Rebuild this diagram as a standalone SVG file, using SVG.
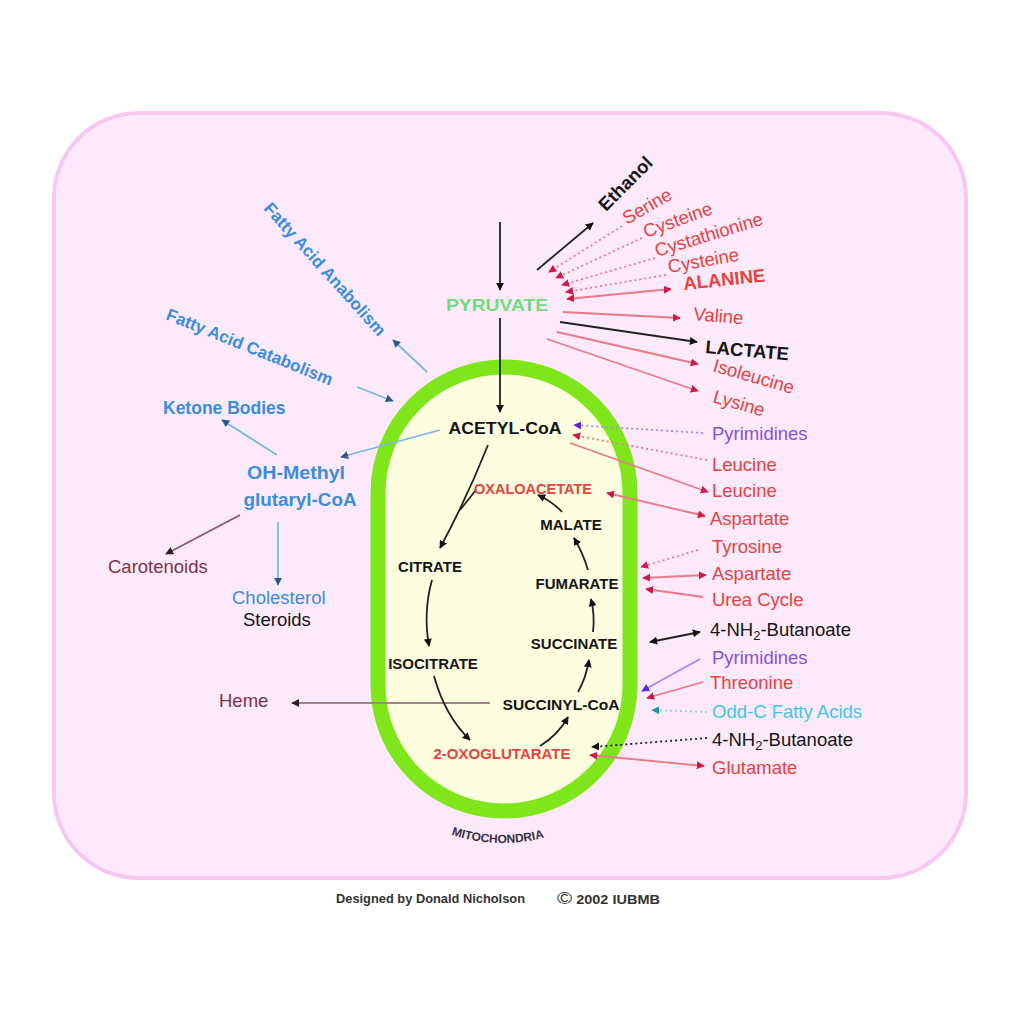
<svg xmlns="http://www.w3.org/2000/svg" width="1024" height="1024" viewBox="0 0 1024 1024">
<defs>
<style>
text{font-family:"Liberation Sans",Arial,sans-serif}
.lab{font-size:18.5px}
.red{fill:#e5433f}
.blk{fill:#151515}
.pur{fill:#8650e0}
.cyn{fill:#3ec6ec}
.blu{fill:#3a8ddc}
.brn{fill:#7e3444}
.grn{fill:#6edc7c}
.tca{font-size:15px;font-weight:bold;text-anchor:middle}
.b{font-weight:bold}
.c{stroke-width:1.8;fill:none}
.lr{stroke:#ec7a86}
.lk{stroke:#222}
.lp{stroke:#a988ec}
.lc{stroke:#8ad8f0}
.lb{stroke:#7ab6e6}
.ln{stroke:#8a5a62}
.dot{stroke-dasharray:2 3}
.ek{marker-end:url(#mk)}
.er{marker-end:url(#mr)}
.ep{marker-end:url(#mp)}
.ec{marker-end:url(#mc)}
.eb{marker-end:url(#mb)}
.en{marker-end:url(#mn)}
.sk{marker-start:url(#mk)}
.sr{marker-start:url(#mr)}
</style>
<marker id="mk" viewBox="0 0 10 10" refX="9" refY="5" markerWidth="8" markerHeight="8" markerUnits="userSpaceOnUse" orient="auto-start-reverse"><path d="M0,0L10,5L0,10z" fill="#111"/></marker>
<marker id="mr" viewBox="0 0 10 10" refX="9" refY="5" markerWidth="8" markerHeight="8" markerUnits="userSpaceOnUse" orient="auto-start-reverse"><path d="M0,0L10,5L0,10z" fill="#d01848"/></marker>
<marker id="mp" viewBox="0 0 10 10" refX="9" refY="5" markerWidth="8" markerHeight="8" markerUnits="userSpaceOnUse" orient="auto-start-reverse"><path d="M0,0L10,5L0,10z" fill="#5a2ad0"/></marker>
<marker id="mc" viewBox="0 0 10 10" refX="9" refY="5" markerWidth="8" markerHeight="8" markerUnits="userSpaceOnUse" orient="auto-start-reverse"><path d="M0,0L10,5L0,10z" fill="#1a98b8"/></marker>
<marker id="mb" viewBox="0 0 10 10" refX="9" refY="5" markerWidth="8" markerHeight="8" markerUnits="userSpaceOnUse" orient="auto-start-reverse"><path d="M0,0L10,5L0,10z" fill="#2a5a8a"/></marker>
<marker id="mn" viewBox="0 0 10 10" refX="9" refY="5" markerWidth="8" markerHeight="8" markerUnits="userSpaceOnUse" orient="auto-start-reverse"><path d="M0,0L10,5L0,10z" fill="#3a1a20"/></marker>
<path id="mitoArc" d="M434,828 Q497,856 562,832"/>
</defs>
<rect width="1024" height="1024" fill="#ffffff"/>
<rect id="cell" x="54" y="113" width="912" height="765" rx="85" fill="#fce9fb" stroke="#f6c8f1" stroke-width="4"/>
<rect id="mitochondrion" x="378" y="367" width="252" height="444" rx="126" ry="126" fill="#fdfde0" stroke="#80e61c" stroke-width="15"/>

<g id="connectors">
<path class="c lk ek" d="M500,222 L500,290"/>
<path class="c lk ek" d="M500,318 L500,412"/>
<path class="c lk ek" d="M537,270 L593,223"/>
<path class="c lr er dot" d="M622,226 L549,272"/>
<path class="c lr er dot" d="M642,238 L556,278"/>
<path class="c lr er dot" d="M655,258 L562,285"/>
<path class="c lr er dot" d="M666,275 L566,292"/>
<path class="c lr er sr" d="M567,299 L671,289"/>
<path class="c lr er" d="M563,312 L680,318"/>
<path class="c lk ek" d="M560,322 L697,342"/>
<path class="c lr er" d="M557,332 L698,364"/>
<path class="c lr er" d="M547,339 L698,391"/>
<path class="c lp ep dot" d="M703,433 L574,425"/>
<path class="c lr er dot" d="M707,460 L573,435"/>
<path class="c lr er" d="M570,443 L708,492"/>
<path class="c lr er sr" d="M607,493 L705,516"/>
<path class="c lr er dot" d="M698,550 L641,567"/>
<path class="c lr er sr" d="M643,578 L706,575"/>
<path class="c lr er" d="M703,597 L646,589"/>
<path class="c lk ek sk" d="M650,642 L700,632"/>
<path class="c lp ep" d="M700,659 L642,691"/>
<path class="c lr er" d="M703,682 L647,698"/>
<path class="c lc ec dot" d="M707,712 L652,710"/>
<path class="c lk ek dot" d="M707,738 L592,747"/>
<path class="c lr er sr" d="M590,755 L704,766"/>
<path class="c lb eb" d="M440,430 L341,457"/>
<path class="c lb eb" d="M277,455 L222,420"/>
<path class="c lb eb" d="M278,522 L278,585"/>
<path class="c lb eb" d="M427,372 L393,340"/>
<path class="c lb eb" d="M357,387 L393,401"/>
<path class="c ln en" d="M240,515 L166,554"/>
<path class="c en" stroke="#a08486" stroke-width="2.6" d="M490,703 L292,703"/>
<path class="c lk ek" d="M488,445 Q466,500 440,548"/>
<path class="c lk" d="M476,490 L460,510"/>
<path class="c lk ek" d="M432,580 Q423,612 429,646"/>
<path class="c lk ek" d="M434,676 Q445,716 470,740"/>
<path class="c lk ek" d="M540,746 Q558,735 568,717"/>
<path class="c lk ek" d="M578,692 Q586,678 589,660"/>
<path class="c lk ek" d="M593,632 Q595,615 591,599"/>
<path class="c lk ek" d="M588,570 Q583,553 574,538"/>
<path class="c lk ek" d="M562,512 Q553,502 538,495"/>
</g>

<g id="node-pyruvate"><text class="grn b" x="497" y="311" font-size="16" text-anchor="middle" textLength="102" lengthAdjust="spacingAndGlyphs">PYRUVATE</text></g>
<g id="node-acetylcoa"><text class="tca blk" x="505" y="434" textLength="113" lengthAdjust="spacingAndGlyphs" style="font-size:17px">ACETYL-CoA</text></g>
<g id="node-oxaloacetate"><text class="tca red" x="533" y="494" textLength="118" lengthAdjust="spacingAndGlyphs">OXALOACETATE</text></g>
<g id="node-malate"><text class="tca blk" x="571" y="530">MALATE</text></g>
<g id="node-citrate"><text class="tca blk" x="430" y="572">CITRATE</text></g>
<g id="node-fumarate"><text class="tca blk" x="577" y="589">FUMARATE</text></g>
<g id="node-succinate"><text class="tca blk" x="574" y="649">SUCCINATE</text></g>
<g id="node-isocitrate"><text class="tca blk" x="433" y="669">ISOCITRATE</text></g>
<g id="node-succinylcoa"><text class="tca blk" x="561" y="710" textLength="117" lengthAdjust="spacingAndGlyphs">SUCCINYL-CoA</text></g>
<g id="node-oxoglutarate"><text class="tca red" x="502" y="759" textLength="137" lengthAdjust="spacingAndGlyphs">2-OXOGLUTARATE</text></g>
<g id="label-mitochondria"><text font-size="12" font-weight="bold" fill="#3a3040"><textPath href="#mitoArc" startOffset="50%" text-anchor="middle">MITOCHONDRIA</textPath></text></g>

<g id="node-ethanol"><text class="lab b blk" transform="translate(606,212) rotate(-45)">Ethanol</text></g>
<g id="node-serine"><text class="lab red" transform="translate(627,225) rotate(-30)">Serine</text></g>
<g id="node-cysteine1"><text class="lab red" transform="translate(646,238) rotate(-20)">Cysteine</text></g>
<g id="node-cystathionine"><text class="lab red" transform="translate(657,257) rotate(-17)">Cystathionine</text></g>
<g id="node-cysteine2"><text class="lab red" transform="translate(669,273) rotate(-10)">Cysteine</text></g>
<g id="node-alanine"><text class="lab b red" transform="translate(684,290) rotate(-6)">ALANINE</text></g>
<g id="node-valine"><text class="lab red" transform="translate(693,320) rotate(5)">Valine</text></g>
<g id="node-lactate"><text class="lab b blk" transform="translate(705,353) rotate(5)">LACTATE</text></g>
<g id="node-isoleucine"><text class="lab red" transform="translate(712,371) rotate(16)">Isoleucine</text></g>
<g id="node-lysine"><text class="lab red" transform="translate(712,402) rotate(16)">Lysine</text></g>

<g id="node-pyrimidines1"><text class="lab pur" x="712" y="440">Pyrimidines</text></g>
<g id="node-leucine1"><text class="lab red" x="712" y="471">Leucine</text></g>
<g id="node-leucine2"><text class="lab red" x="712" y="497">Leucine</text></g>
<g id="node-aspartate1"><text class="lab red" x="710" y="525">Aspartate</text></g>
<g id="node-tyrosine"><text class="lab red" x="712" y="553">Tyrosine</text></g>
<g id="node-aspartate2"><text class="lab red" x="712" y="580">Aspartate</text></g>
<g id="node-ureacycle"><text class="lab red" x="712" y="606">Urea Cycle</text></g>
<g id="node-butanoate1"><text class="lab blk" x="710" y="636">4-NH<tspan font-size="13" dy="4">2</tspan><tspan dy="-4">-Butanoate</tspan></text></g>
<g id="node-pyrimidines2"><text class="lab pur" x="712" y="664">Pyrimidines</text></g>
<g id="node-threonine"><text class="lab red" x="710" y="689">Threonine</text></g>
<g id="node-oddc"><text class="lab cyn" x="712" y="718">Odd-C Fatty Acids</text></g>
<g id="node-butanoate2"><text class="lab blk" x="712" y="746">4-NH<tspan font-size="13" dy="4">2</tspan><tspan dy="-4">-Butanoate</tspan></text></g>
<g id="node-glutamate"><text class="lab red" x="712" y="774">Glutamate</text></g>

<g id="node-fa-anabolism"><text class="blu b" font-size="17" transform="translate(263,209) rotate(48)">Fatty Acid Anabolism</text></g>
<g id="node-fa-catabolism"><text class="blu b" font-size="17" transform="translate(165,319) rotate(22)">Fatty Acid Catabolism</text></g>
<g id="node-ketone"><text class="blu b" font-size="17.5" x="163" y="414">Ketone Bodies</text></g>
<g id="node-ohmethyl"><text class="blu b" font-size="18" text-anchor="middle"><tspan x="296" y="479" textLength="98" lengthAdjust="spacingAndGlyphs">OH-Methyl</tspan><tspan x="300" y="506" textLength="113" lengthAdjust="spacingAndGlyphs">glutaryl-CoA</tspan></text></g>
<g id="node-carotenoids"><text class="lab brn" x="108" y="573">Carotenoids</text></g>
<g id="node-cholesterol"><text class="lab blu" x="232" y="604">Cholesterol</text><text class="lab blk" x="243" y="626">Steroids</text></g>
<g id="node-heme"><text class="lab brn" x="219" y="707">Heme</text></g>

<g id="footer">
<text x="336" y="903" font-size="12" font-weight="bold" fill="#333" textLength="189" lengthAdjust="spacingAndGlyphs">Designed by Donald Nicholson</text>
<text x="557" y="904" font-size="12" font-weight="bold" fill="#333" textLength="103" lengthAdjust="spacingAndGlyphs"><tspan font-size="17" font-weight="normal">©</tspan> 2002 IUBMB</text>
</g>
</svg>
